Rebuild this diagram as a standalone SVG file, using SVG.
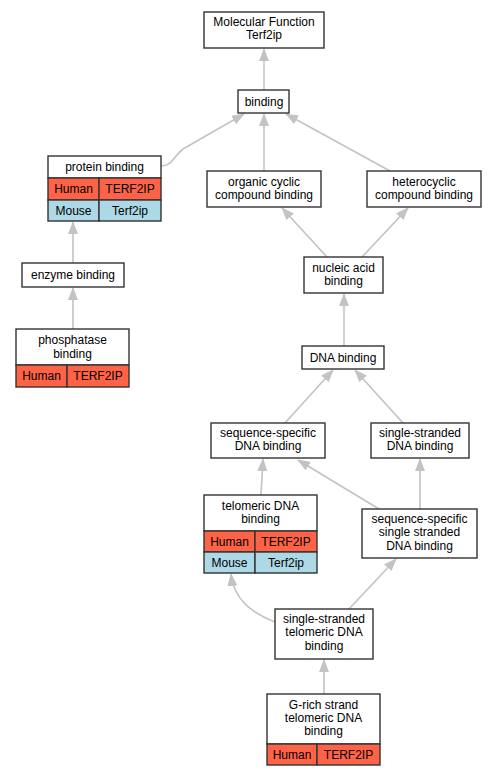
<svg xmlns="http://www.w3.org/2000/svg" width="497" height="776" viewBox="0 0 497 776">
<style>
.n{fill:#fff;stroke:#333;stroke-width:1.4}
.h{fill:#ff6347;stroke:#333;stroke-width:1.4}
.m{fill:#add8e6;stroke:#333;stroke-width:1.4}
text{font-family:"Liberation Sans",Arial,sans-serif;font-size:12px;fill:#000;text-anchor:middle}
.e{fill:none;stroke:#c3c3c3;stroke-width:1.6;marker-end:url(#a)}
</style>
<defs>
<marker id="a" viewBox="0 0 13 10" refX="12" refY="5" markerWidth="13" markerHeight="10" markerUnits="userSpaceOnUse" orient="auto">
<path d="M0,0 L13,5 L0,10 z" fill="#c3c3c3"/>
</marker>
</defs>
<rect width="497" height="776" fill="#fff"/>
<g id="edges">
<path class="e" d="M264,90 L264,49"/>
<path class="e" d="M161,166 C172,166 174,156 183,149 L244,114"/>
<path class="e" d="M264,171 L264,114"/>
<path class="e" d="M390,171 L286,114"/>
<path class="e" d="M73,263 L73,222"/>
<path class="e" d="M73,329 L73,288"/>
<path class="e" d="M327,257 L282,208"/>
<path class="e" d="M362,257 L408,208"/>
<path class="e" d="M344,346 L344,294"/>
<path class="e" d="M285,423 L333,370"/>
<path class="e" d="M403,423 L355,370"/>
<path class="e" d="M261,495 L263,459"/>
<path class="e" d="M379,509 L298,460"/>
<path class="e" d="M420,509 L420,459"/>
<path class="e" d="M275,622 C252,613 234,600 231,574"/>
<path class="e" d="M349,609 L396,559"/>
<path class="e" d="M324,694 L324,660"/>
</g>
<g id="mf">
<rect class="n" x="204" y="12" width="120" height="36"/>
<text x="264" y="26">Molecular Function</text>
<text x="264" y="39">Terf2ip</text>
</g>
<g id="binding">
<rect class="n" x="238" y="90" width="51" height="23"/>
<text x="264" y="106">binding</text>
</g>
<g id="protein_binding">
<rect class="n" x="48" y="156" width="113" height="22"/>
<text x="104.5" y="171">protein binding</text>
<rect class="h" x="48" y="178" width="51" height="22"/>
<rect class="h" x="99" y="178" width="62" height="22"/>
<text x="73.5" y="193">Human</text>
<text x="130" y="193">TERF2IP</text>
<rect class="m" x="48" y="200" width="51" height="21"/>
<rect class="m" x="99" y="200" width="62" height="21"/>
<text x="73.5" y="215">Mouse</text>
<text x="130" y="215">Terf2ip</text>
</g>
<g id="organic">
<rect class="n" x="207" y="171" width="114" height="36"/>
<text x="264" y="186">organic cyclic</text>
<text x="264" y="199">compound binding</text>
</g>
<g id="heterocyclic">
<rect class="n" x="367" y="171" width="114" height="36"/>
<text x="424" y="186">heterocyclic</text>
<text x="424" y="199">compound binding</text>
</g>
<g id="enzyme">
<rect class="n" x="22" y="263" width="102" height="24"/>
<text x="73" y="279">enzyme binding</text>
</g>
<g id="phosphatase">
<rect class="n" x="16" y="329" width="113" height="36"/>
<text x="72.5" y="344">phosphatase</text>
<text x="72.5" y="358">binding</text>
<rect class="h" x="16" y="365" width="51" height="22"/>
<rect class="h" x="67" y="365" width="62" height="22"/>
<text x="41.5" y="380">Human</text>
<text x="98" y="380">TERF2IP</text>
</g>
<g id="nucleic">
<rect class="n" x="304" y="257" width="79" height="36"/>
<text x="343.5" y="272">nucleic acid</text>
<text x="343.5" y="285">binding</text>
</g>
<g id="dna">
<rect class="n" x="302" y="346" width="82" height="23"/>
<text x="343" y="362">DNA binding</text>
</g>
<g id="seqdna">
<rect class="n" x="211" y="423" width="114" height="35"/>
<text x="268" y="437">sequence-specific</text>
<text x="268" y="450">DNA binding</text>
</g>
<g id="ssdna">
<rect class="n" x="371" y="423" width="98" height="35"/>
<text x="420" y="437">single-stranded</text>
<text x="420" y="450">DNA binding</text>
</g>
<g id="telomeric">
<rect class="n" x="204" y="495" width="113" height="36"/>
<text x="260.5" y="510">telomeric DNA</text>
<text x="260.5" y="523">binding</text>
<rect class="h" x="204" y="531" width="51" height="21"/>
<rect class="h" x="255" y="531" width="62" height="21"/>
<text x="229.5" y="546">Human</text>
<text x="286" y="546">TERF2IP</text>
<rect class="m" x="204" y="552" width="51" height="21"/>
<rect class="m" x="255" y="552" width="62" height="21"/>
<text x="229.5" y="567">Mouse</text>
<text x="286" y="567">Terf2ip</text>
</g>
<g id="seqss">
<rect class="n" x="362" y="509" width="115" height="49"/>
<text x="419.5" y="523">sequence-specific</text>
<text x="419.5" y="536">single stranded</text>
<text x="419.5" y="550">DNA binding</text>
</g>
<g id="sstelo">
<rect class="n" x="275" y="609" width="98" height="50"/>
<text x="324" y="623">single-stranded</text>
<text x="324" y="636">telomeric DNA</text>
<text x="324" y="650">binding</text>
</g>
<g id="grich">
<rect class="n" x="267" y="694" width="113" height="50"/>
<text x="323.5" y="709">G-rich strand</text>
<text x="323.5" y="722">telomeric DNA</text>
<text x="323.5" y="735">binding</text>
<rect class="h" x="267" y="744" width="50" height="21"/>
<rect class="h" x="317" y="744" width="63" height="21"/>
<text x="292" y="759">Human</text>
<text x="348.5" y="759">TERF2IP</text>
</g>
</svg>
